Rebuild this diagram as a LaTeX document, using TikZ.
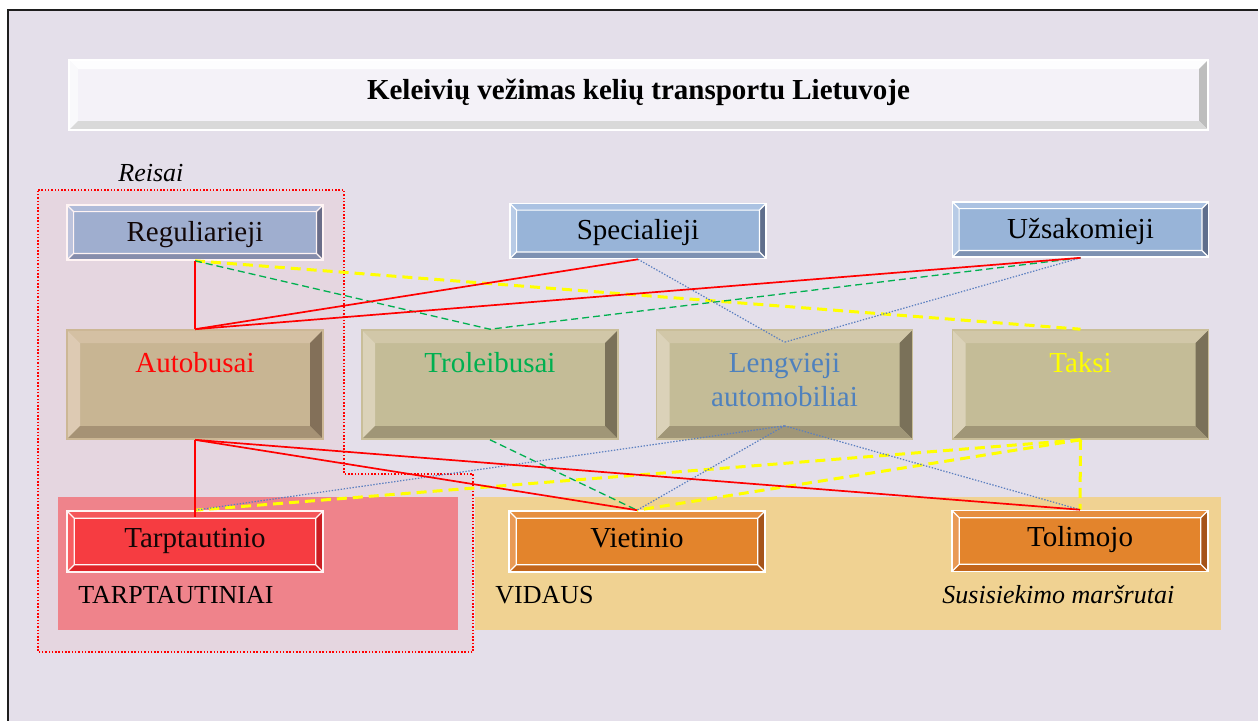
\documentclass[tikz,border=0pt]{standalone}
\usepackage{fontspec}
\setmainfont{Liberation Serif}
\definecolor{bgc}{HTML}{E4DFEA}
\definecolor{framec}{HTML}{1E1E1E}
\definecolor{tface}{HTML}{F4F2F8}
\definecolor{ttop}{HTML}{FDFDFE}
\definecolor{tleft}{HTML}{F9F9FB}
\definecolor{tright}{HTML}{BDBDBD}
\definecolor{tbot}{HTML}{D9D9D9}
\definecolor{bface}{HTML}{98B4D8}
\definecolor{btop}{HTML}{ABC2E2}
\definecolor{bleft}{HTML}{B8CBE6}
\definecolor{bright}{HTML}{5F6E8C}
\definecolor{bbot}{HTML}{7D91B2}
\definecolor{nface}{HTML}{C4BC97}
\definecolor{ntop}{HTML}{D1C7A8}
\definecolor{nleft}{HTML}{DBD2B9}
\definecolor{nright}{HTML}{7A7159}
\definecolor{nbot}{HTML}{A09677}
\definecolor{nborder}{HTML}{C9BE99}
\definecolor{rface}{HTML}{F6393F}
\definecolor{rtop}{HTML}{F5555A}
\definecolor{rleft}{HTML}{F75E62}
\definecolor{rright}{HTML}{C8181D}
\definecolor{rbot}{HTML}{DC1D23}
\definecolor{oface}{HTML}{E3842C}
\definecolor{otop}{HTML}{E68F40}
\definecolor{oleft}{HTML}{E99A55}
\definecolor{oright}{HTML}{A5541A}
\definecolor{obot}{HTML}{C2651B}
\definecolor{pinkreg}{HTML}{EE868E}
\definecolor{orangereg}{HTML}{F0D292}
\definecolor{overlayc}{HTML}{FF6666}
\definecolor{greenc}{HTML}{00B050}
\definecolor{bluec}{HTML}{4F81BD}
\definecolor{dotblue}{HTML}{5B7FC0}
\definecolor{yellowc}{HTML}{FFFF00}
\tikzset{
  bevel/.style n args={7}{fill=#1, path picture={
    \coordinate (bvA) at (path picture bounding box.north west);
    \coordinate (bvB) at (path picture bounding box.north east);
    \coordinate (bvC) at (path picture bounding box.south east);
    \coordinate (bvD) at (path picture bounding box.south west);
    \coordinate (bvAi) at ([shift={(#6,-#6)}]bvA);
    \coordinate (bvBi) at ([shift={(-#6,-#6)}]bvB);
    \coordinate (bvCi) at ([shift={(-#6,#6)}]bvC);
    \coordinate (bvDi) at ([shift={(#6,#6)}]bvD);
    \fill[#2] (bvA) -- (bvB) -- (bvBi) -- (bvAi) -- cycle;
    \fill[#3] (bvA) -- (bvAi) -- (bvDi) -- (bvD) -- cycle;
    \fill[#4] (bvB) -- (bvC) -- (bvCi) -- (bvBi) -- cycle;
    \fill[#5] (bvD) -- (bvDi) -- (bvCi) -- (bvC) -- cycle;
    \path[draw=#7, line width=0.6pt] (bvAi) -- (bvBi) -- (bvCi) -- (bvDi) -- cycle
      (bvA) -- (bvAi) (bvB) -- (bvBi) (bvC) -- (bvCi) (bvD) -- (bvDi);
  }},
  boxfont/.style={font=\fontsize{14.5}{17}\selectfont},
  smallbox/.style={rectangle, inner sep=0pt, minimum width=128pt, minimum height=27.5pt,
    draw=white, line width=0.8pt, boxfont, text height=10pt, text depth=1.5pt},
  bluebox/.style={smallbox, bevel={bface}{btop}{bleft}{bright}{bbot}{3.3pt}{white}},
  redbox/.style={smallbox, minimum height=30.5pt, text height=10pt, text depth=4.5pt,
    bevel={rface}{rtop}{rleft}{rright}{rbot}{3.6pt}{white}},
  orangebox/.style={smallbox, minimum height=30.5pt, text height=10pt, text depth=4.5pt,
    bevel={oface}{otop}{oleft}{oright}{obot}{3.6pt}{white}},
  bigbox/.style={rectangle, inner sep=0pt, minimum width=128pt, minimum height=54.5pt,
    draw=nborder, line width=0.8pt, boxfont, text height=10pt, text depth=22.5pt,
    bevel={nface}{ntop}{nleft}{nright}{nbot}{6.5pt}{none}},
  titlebox/.style={rectangle, inner sep=0pt, minimum width=569.5pt, minimum height=35pt,
    draw=white, line width=0.8pt, font=\bfseries\fontsize{14.5}{17}\selectfont,
    text height=10pt, text depth=5.7pt,
    bevel={tface}{ttop}{tleft}{tright}{tbot}{4.5pt}{none}},
  annot/.style={inner sep=0pt, anchor=base west, font=\fontsize{13}{15}\selectfont},
  redl/.style={draw=red, line width=0.85pt},
  greenl/.style={draw=greenc, line width=0.65pt, dash pattern=on 3.5pt off 2pt},
  bluel/.style={draw=dotblue, line width=0.6pt, dash pattern=on 0.7pt off 0.8pt},
  yellowl/.style={draw=yellowc, line width=1.5pt, dash pattern=on 5pt off 3pt},
}
\begin{document}
\begin{tikzpicture}[x=0.5pt, y=-0.5pt]
\useasboundingbox (0,0) rectangle (1258,720);
\clip (0,0) rectangle (1258,720);
\fill[white] (0,0) rectangle (1258,720);
\fill[bgc] (8,10) rectangle (1270,730);
\draw[framec, line width=1pt] (8,735) -- (8,10) -- (1270,10);

% regions
\fill[pinkreg] (58,497) rectangle (458,630);
\fill[orangereg] (475,497) rectangle (1221,630);

% title
\node[titlebox] (title) at (638.5,95) {Keleivių vežimas kelių transportu Lietuvoje};

% row 1
\node[bluebox] (regu) at (195,232.5) {Reguliarieji};
\node[bluebox] (spec) at (638,231) {Specialieji};
\node[bluebox] (uzs) at (1080.5,229.5) {Užsakomieji};

% row 2
\node[bigbox, text=red] (auto) at (195,384.5) {Autobusai};
\node[bigbox, text=greenc] (trol) at (490,384.5) {Troleibusai};
\node[bigbox, text=bluec] (leng) at (784.5,384.5) {\begin{tabular}[t]{@{}c@{}}Lengvieji\\automobiliai\end{tabular}};
\node[bigbox, text=yellowc] (taksi) at (1080.5,384.5) {Taksi};

% row 3
\node[redbox] (tarp) at (195,541.5) {Tarptautinio};
\node[orangebox] (viet) at (637,541.5) {Vietinio};
\node[orangebox] (tol) at (1080,541) {Tolimojo};

% Reisai region (translucent, dotted)
\path[fill=overlayc, fill opacity=0.07, draw=red, line width=0.75pt, dash pattern=on 0.75pt off 0.9pt]
  (38,190) -- (344,190) -- (344,474) -- (473,474) -- (473,652) -- (38,652) -- cycle;

% labels
\node[annot, font=\itshape\fontsize{13}{15}\selectfont] (reisai) at (118,181) {Reisai};
\node[annot] (tarpt) at (78,603) {TARPTAUTINIAI};
\node[annot] (vidaus) at (495,603) {VIDAUS};
\node[annot, font=\itshape\fontsize{13}{15}\selectfont] (susis) at (942,603) {Susisiekimo maršrutai};

% connection points on Lengvieji face
\coordinate (lengT) at ([yshift=-6.5pt]leng.north);
\coordinate (lengB) at ([yshift=7pt]leng.south);

% yellow (Taksi)
\draw[yellowl] (regu.south) -- (taksi.north);
\draw[yellowl] (taksi.south) -- (tarp.north);
\draw[yellowl] (taksi.south) -- (viet.north);
\draw[yellowl] (taksi.south) -- (tol.north);

% green (Troleibusai)
\draw[greenl] (regu.south) -- (trol.north);
\draw[greenl] (uzs.south) -- (trol.north);
\draw[greenl] (trol.south) -- (viet.north);

% blue (Lengvieji)
\draw[bluel] (spec.south) -- (lengT);
\draw[bluel] (uzs.south) -- (lengT);
\draw[bluel] (lengB) -- (tarp.north);
\draw[bluel] (lengB) -- (viet.north);
\draw[bluel] (lengB) -- (tol.north);

% red (Autobusai)
\draw[redl] (regu.south) -- (auto.north);
\draw[redl] (spec.south) -- (auto.north);
\draw[redl] (uzs.south) -- (auto.north);
\draw[redl] (auto.south) -- ([yshift=-3.5pt]tarp.north);
\draw[redl] (auto.south) -- (viet.north);
\draw[redl] (auto.south) -- (tol.north);
\end{tikzpicture}
\end{document}
